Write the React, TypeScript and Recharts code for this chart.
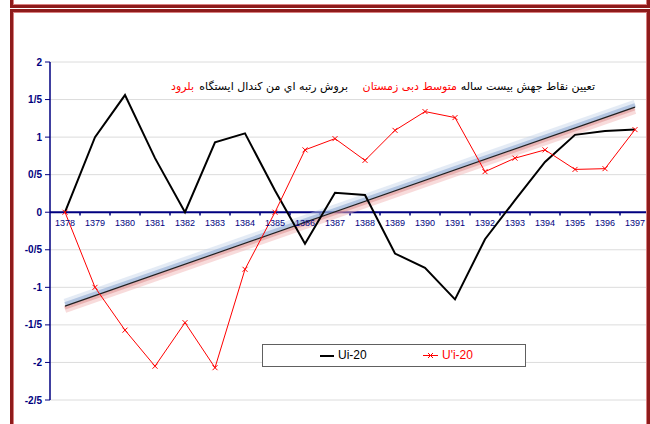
import React from "react";
import { LineChart, Line, XAxis, YAxis, CartesianGrid, ReferenceLine, ReferenceDot } from "recharts";

const years = [1378, 1379, 1380, 1381, 1382, 1383, 1384, 1385, 1386, 1387, 1388, 1389, 1390, 1391, 1392, 1393, 1394, 1395, 1396, 1397];
const ui20 = [0, 1.0, 1.56, 0.72, 0, 0.93, 1.05, 0.29, -0.42, 0.26, 0.23, -0.55, -0.74, -1.16, -0.36, 0.16, 0.67, 1.03, 1.08, 1.1];
const upi20 = [0, -1.0, -1.57, -2.05, -1.47, -2.07, -0.76, 0, 0.83, 0.98, 0.69, 1.09, 1.34, 1.26, 0.54, 0.72, 0.83, 0.57, 0.58, 1.1];
const trendStartValue = -1.25;
const trendEndValue = 1.4;
const yTicks = [-2.5, -2, -1.5, -1, -0.5, 0, 0.5, 1, 1.5, 2];
const seriesNames = ["Ui-20", "U'i-20"];
const titleParts = ["تعيين نقاط جهش بيست ساله", "متوسط دبی زمستان", "بروش رتبه اي من کندال ايستگاه", "بلرود"];
const titleColors = ["#000000", "#ff0000", "#000000", "#ff0000"];

const data = years.map((y, i) => ({ year: y, ui: ui20[i], upi: upi20[i] }));

const NAVY = "#000080";
const AXIS_FONT = "Arial, 'Liberation Sans', sans-serif";

const XMark = (props: any) => {
  const { cx, cy, index } = props;
  if (cx == null || cy == null) return <g key={`x-${index}`} />;
  const s = 2.5;
  return (
    <path
      key={`x-${index}`}
      d={`M${cx - s},${cy - s}L${cx + s},${cy + s}M${cx - s},${cy + s}L${cx + s},${cy - s}`}
      stroke="#ff0000"
      strokeWidth={1}
      fill="none"
    />
  );
};

const titleRights = [55, 193, 302, 456];

export default function App() {
  const first = years[0];
  const last = years[years.length - 1];
  const seg = (d: number) => [
    { x: first, y: trendStartValue + d },
    { x: last, y: trendEndValue + d },
  ];
  return (
    <div style={{ position: "absolute", left: 0, top: 0, width: 650, height: 424, overflow: "hidden", background: "#fff" }}>
      <div style={{ position: "absolute", left: 0, top: 0 }}>
        <LineChart width={650} height={424} data={data} margin={{ top: 62, right: 0, bottom: 24, left: 0 }}>
          <CartesianGrid vertical={false} stroke="#dcdcdc" strokeWidth={1} />
          <XAxis type="number" dataKey="year" domain={[first - 0.5, last + 0.5]} hide allowDataOverflow />
          <YAxis
            type="number"
            domain={[-2.5, 2]}
            ticks={yTicks}
            width={50}
            interval={0}
            axisLine={{ stroke: NAVY, strokeWidth: 1.5 }}
            tickLine={{ stroke: NAVY, strokeWidth: 1 }}
            tickSize={5}
            tickMargin={3}
            tick={{ fill: NAVY, fontSize: 10, fontWeight: "bold", fontFamily: AXIS_FONT }}
            tickFormatter={(v: number) => String(v).replace(".", "/")}
          />
          <ReferenceLine y={0} stroke={NAVY} strokeWidth={2} ifOverflow="visible" />
          {years.slice(0, -1).map((y) => (
            <ReferenceLine
              key={`tk-${y}`}
              segment={[{ x: y + 0.5, y: 0 }, { x: y + 0.5, y: -0.045 }]}
              stroke={NAVY}
              strokeWidth={1.5}
              ifOverflow="visible"
            />
          ))}
          {years.map((y) => (
            <ReferenceDot
              key={`lb-${y}`}
              x={y}
              y={0}
              r={0}
              fill="none"
              stroke="none"
              ifOverflow="visible"
              label={{ value: String(y), position: "bottom", offset: 7, fill: NAVY, fontSize: 9, fontFamily: AXIS_FONT }}
            />
          ))}
          <ReferenceLine segment={seg(0.045)} stroke="#c4d2e8" strokeWidth={8} strokeOpacity={0.45} ifOverflow="visible" />
          <ReferenceLine segment={seg(0.025)} stroke="#8aa6d0" strokeWidth={4} strokeOpacity={0.55} ifOverflow="visible" />
          <ReferenceLine segment={seg(-0.045)} stroke="#f2b8b8" strokeWidth={7} strokeOpacity={0.5} ifOverflow="visible" />
          <ReferenceLine segment={seg(-0.025)} stroke="#d88080" strokeWidth={3} strokeOpacity={0.45} ifOverflow="visible" />
          <ReferenceLine segment={seg(0)} stroke="#202020" strokeWidth={1.2} ifOverflow="visible" />
          <Line
            type="linear"
            dataKey="ui"
            name={seriesNames[0]}
            stroke="#000000"
            strokeWidth={2}
            dot={false}
            isAnimationActive={false}
          />
          <Line
            type="linear"
            dataKey="upi"
            name={seriesNames[1]}
            stroke="#ff0000"
            strokeWidth={1}
            dot={XMark}
            activeDot={false}
            isAnimationActive={false}
          />
        </LineChart>
      </div>

      {titleParts.map((t, i) => (
        <div
          key={i}
          style={{
            position: "absolute",
            right: titleRights[i],
            top: 80,
            direction: "rtl",
            whiteSpace: "nowrap",
            fontFamily: "'DejaVu Sans', sans-serif",
            fontSize: 11,
            lineHeight: "14px",
            color: titleColors[i],
          }}
        >
          {t}
        </div>
      ))}

      <div
        style={{
          position: "absolute",
          left: 262,
          top: 344,
          width: 262,
          height: 21,
          border: "1.5px solid #606060",
          background: "#fff",
          fontFamily: AXIS_FONT,
          fontSize: 12,
        }}
      >
        <div style={{ position: "absolute", left: 57, top: 10, width: 14, height: 2, background: "#000" }} />
        <div style={{ position: "absolute", left: 75, top: 3, color: "#000", lineHeight: "14px" }}>{seriesNames[0]}</div>
        <div style={{ position: "absolute", left: 160, top: 10, width: 15, height: 1, background: "#ff0000" }} />
        <svg style={{ position: "absolute", left: 164, top: 7 }} width={7} height={7}>
          <path d="M1,1L6,6M1,6L6,1" stroke="#ff0000" strokeWidth={1} />
        </svg>
        <div style={{ position: "absolute", left: 179, top: 3, color: "#ff0000", lineHeight: "14px" }}>{seriesNames[1]}</div>
      </div>

      <div
        style={{
          position: "absolute",
          left: 10,
          top: -30,
          width: 634,
          height: 32,
          border: "3px solid #8e1b1b",
          boxShadow: "inset 0 0 0 1px #d88080",
          pointerEvents: "none",
        }}
      />
      <div
        style={{
          position: "absolute",
          left: 10,
          top: 9,
          width: 634,
          height: 500,
          border: "3px solid #8e1b1b",
          boxShadow: "inset 0 0 0 1px #d88080",
          pointerEvents: "none",
        }}
      />
    </div>
  );
}
